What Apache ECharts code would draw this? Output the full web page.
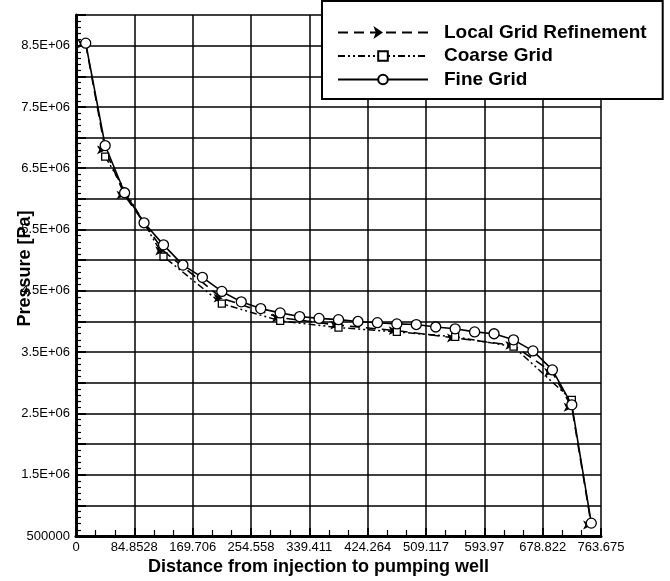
<!DOCTYPE html>
<html>
<head>
<meta charset="utf-8">
<script src="https://cdn.jsdelivr.net/npm/echarts@6/dist/echarts.min.js"></script>
<style>
html,body{margin:0;padding:0;background:#fff;}
#chart{width:670px;height:581px;}
</style>
</head>
<body>
<div id="chart"></div>
<script>
// ---- data ----
var seriesNames = ['Local Grid Refinement', 'Coarse Grid', 'Fine Grid'];
var xTickLabels = ['0','84.8528','169.706','254.558','339.411','424.264','509.117','593.97','678.822','763.675'];

var fineX = [14.14, 42.43, 70.71, 98.99, 127.28, 155.56, 183.85, 212.13, 240.42, 268.70, 296.98, 325.27, 353.55, 381.84, 410.12, 438.41, 466.69, 494.97, 523.26, 551.54, 579.83, 608.11, 636.40, 664.68, 692.96, 721.25, 749.53];
var fineY = [8.54e6, 6.87e6, 6.10e6, 5.61e6, 5.25e6, 4.92e6, 4.72e6, 4.49e6, 4.32e6, 4.21e6, 4.14e6, 4.08e6, 4.05e6, 4.03e6, 4.00e6, 3.98e6, 3.96e6, 3.95e6, 3.91e6, 3.88e6, 3.83e6, 3.80e6, 3.70e6, 3.52e6, 3.21e6, 2.64e6, 0.71e6];

var coarseX = [42.43, 127.28, 212.13, 296.98, 381.84, 466.69, 551.54, 636.40, 721.25];
var coarseY = [6.69e6, 5.06e6, 4.29e6, 4.01e6, 3.90e6, 3.83e6, 3.75e6, 3.59e6, 2.72e6];

var lgrX = [14.14, 42.43, 70.71, 127.28, 212.13, 296.98, 381.84, 466.69, 551.54, 636.40, 692.96, 721.25, 749.53];
var lgrY = [8.53e6, 6.80e6, 6.06e6, 5.15e6, 4.38e6, 4.06e6, 3.94e6, 3.85e6, 3.73e6, 3.61e6, 3.17e6, 2.60e6, 0.68e6];

function pairs(xs, ys){ return xs.map(function(x,i){ return [x, ys[i]]; }); }

var FONT = "'Liberation Sans', Arial, Helvetica, sans-serif";
var xInterval = 763.675 / 9;

var chart = echarts.init(document.getElementById('chart'), null, {renderer:'canvas'});
chart.setOption({
  animation: false,
  backgroundColor: '#fff',
  textStyle: {fontFamily: FONT, color: '#000'},
  grid: {left: 76, right: 69, top: 15, bottom: 45, containLabel: false, outerBoundsMode: 'none'},
  legend: {
    orient: 'vertical', left: 322, top: 1,
    backgroundColor: '#fff', borderColor: '#000', borderWidth: 2,
    padding: [22, 16, 10, 15],
    itemWidth: 90, itemHeight: 12, itemGap: 4.5,
    textStyle: {fontFamily: FONT, fontSize: 19, fontWeight: 'bold', color: '#000', padding: [0,0,0,11], lineHeight: 19},
    data: seriesNames
  },
  xAxis: {
    type: 'value', min: 0, max: 763.675, interval: xInterval,
    name: 'Distance from injection to pumping well',
    nameLocation: 'middle', nameGap: 22, nameMoveOverlap: false,
    nameTextStyle: {fontFamily: FONT, fontSize: 18, fontWeight: 'bold', color: '#000', padding: [0, 40, 0, 0]},
    axisLine: {show: true, lineStyle: {color: '#000', width: 3}},
    axisTick: {show: true, inside: true, length: 8, lineStyle: {color: '#000', width: 2}},
    minorTick: {show: true, splitNumber: 3, length: 6, lineStyle: {color: '#000', width: 1.2}},
    axisLabel: {margin: 5, fontSize: 13, color: '#000', fontFamily: FONT,
      formatter: function(v){ var i = Math.round(v / xInterval); return xTickLabels[i] !== undefined ? xTickLabels[i] : ''; }},
    splitLine: {show: true, lineStyle: {color: '#000', width: 1.5}}
  },
  yAxis: {
    type: 'value', min: 500000, max: 9000000, interval: 500000,
    name: 'Pressure [Pa]', nameLocation: 'middle', nameGap: 42, nameMoveOverlap: false,
    nameTextStyle: {fontFamily: FONT, fontSize: 18, fontWeight: 'bold', color: '#000', padding: [0, 0, 0, 14]},
    axisLine: {show: true, lineStyle: {color: '#000', width: 3}},
    axisTick: {show: true, inside: true, length: 10, lineStyle: {color: '#000', width: 2}},
    minorTick: {show: true, splitNumber: 5, length: 5, lineStyle: {color: '#000', width: 1.2}},
    axisLabel: {margin: 6, fontSize: 13, color: '#000', fontFamily: FONT,
      formatter: function(v){
        if (Math.abs(v - 500000) < 1) return '500000';
        var k = Math.round(v / 500000);
        if (k % 2 === 1) return (v / 1e6).toFixed(1) + 'E+06';
        return '';
      }},
    splitLine: {show: true, lineStyle: {color: '#000', width: 1.5}}
  },
  series: [
    {
      name: seriesNames[0], type: 'line', data: pairs(lgrX, lgrY),
      symbol: 'arrow', symbolSize: [5, 7], symbolRotate: -90,
      lineStyle: {color: '#000', width: 1.6, type: [10, 6]},
      itemStyle: {color: '#000', borderColor: '#000'},
      z: 3
    },
    {
      name: seriesNames[1], type: 'line', data: pairs(coarseX, coarseY),
      symbol: 'rect', symbolSize: 7,
      lineStyle: {color: '#000', width: 1.5, type: [7, 3, 2, 3, 2, 3]},
      itemStyle: {color: '#fff', borderColor: '#000', borderWidth: 1.3},
      z: 4
    },
    {
      name: seriesNames[2], type: 'line', data: pairs(fineX, fineY),
      symbol: 'circle', symbolSize: 10,
      lineStyle: {color: '#000', width: 1.6, type: 'solid'},
      itemStyle: {color: '#fff', borderColor: '#000', borderWidth: 1.3},
      z: 5
    }
  ]
});
</script>
</body>
</html>
